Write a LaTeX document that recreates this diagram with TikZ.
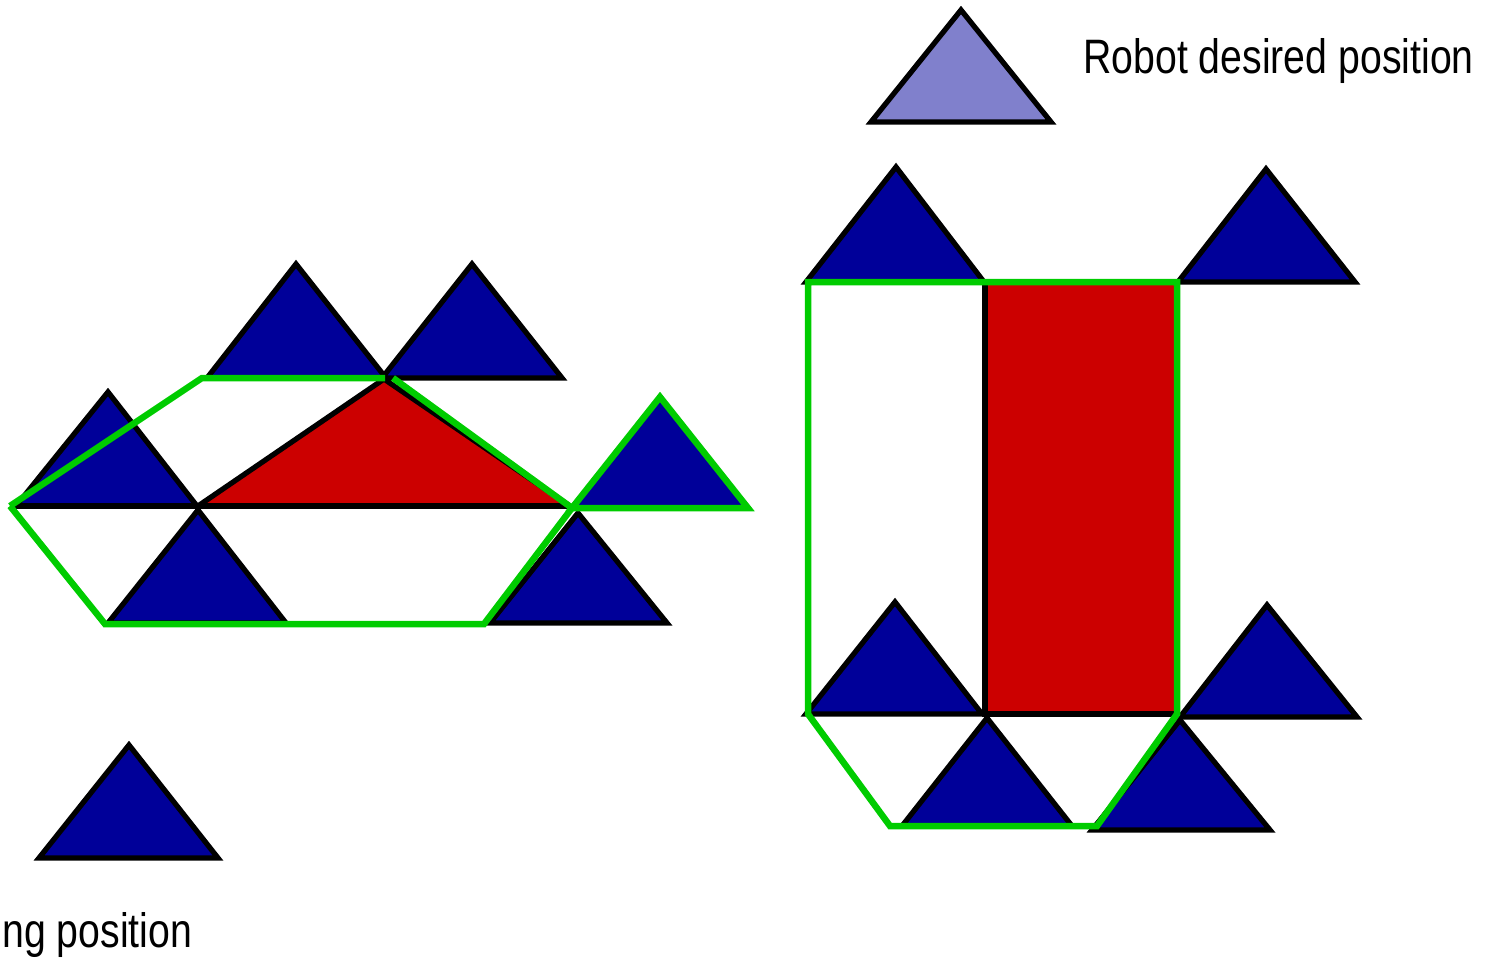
\documentclass[tikz,border=0pt]{standalone}
\usepackage{fontspec}
\setmainfont{Liberation Sans}[FakeStretch=0.812]
\definecolor{robotblue}{RGB}{0,0,153}
\definecolor{robotred}{RGB}{204,0,0}
\definecolor{hullgreen}{RGB}{0,204,0}
\definecolor{goalblue}{RGB}{128,128,204}
\tikzset{
  robot/.style={fill=robotblue, draw=black, line width=3pt, line join=miter},
  goal/.style={fill=goalblue, draw=black, line width=3pt, line join=miter},
  blackedge/.style={draw=black, line width=3pt, line join=miter},
  hull/.style={draw=hullgreen, line width=3.7pt, line join=miter},
  label/.style={font=\fontsize{27.5}{30}\selectfont, inner sep=0pt, anchor=base west}
}
\begin{document}
\begin{tikzpicture}[x=0.02cm, y=-0.02cm]
\useasboundingbox (0,0) rectangle (1492,960);
\clip (0,0) rectangle (1492,960);

% ---------- left group ----------
\fill[robotred] (198,506) -- (384,379) -- (570,506) -- cycle;
\draw[blackedge] (198,506) -- (384,379) -- (570,506);
\draw[robot] (296,264) -- (386,378) -- (207,378) -- cycle;
\draw[robot] (472,264) -- (562,378) -- (382,378) -- cycle;
\draw[robot] (108,392) -- (197,506) -- (16,506) -- cycle;
\draw[blackedge] (16,506) -- (570,506);
\draw[robot] (198,510) -- (286,623) -- (108,623) -- cycle;
\draw[robot] (578,513) -- (667,623) -- (490,623) -- cycle;
\draw[robot] (129,745) -- (218,858) -- (39,858) -- cycle;
% green hull
\draw[hull] (10,506) -- (202,378) -- (385,378);
\draw[hull] (393,378) -- (572,508) -- (484,624) -- (105,624) -- (10,506);
\draw[hull, fill=robotblue] (572,508) -- (660,397) -- (748,508) -- cycle;

% ---------- right group ----------
\draw[goal] (961,10) -- (1051,122) -- (871,122) -- cycle;
\node[label] (goaltext) at (1083,73) {Robot desired position};

\fill[robotred] (985,282) rectangle (1177,714);
\draw[blackedge] (985,282) -- (985,714) -- (1177,714);
\draw[robot] (896,167) -- (984,282) -- (806,282) -- cycle;
\draw[robot] (1266,169) -- (1355,282) -- (1178,282) -- cycle;
\draw[robot] (895,602) -- (982,714) -- (806,714) -- cycle;
\draw[robot] (1267,605) -- (1357,717) -- (1180,717) -- cycle;
\draw[robot] (987,718) -- (1072,826) -- (902,826) -- cycle;
\draw[robot] (1180,720) -- (1270,830) -- (1092,830) -- cycle;
% green hull
\draw[hull] (808,282) -- (1177,282) -- (1177,714) -- (1097,826) -- (890,826) -- (808,714) -- cycle;

\node[label] (starttext) at (2,947) {ng position};
\end{tikzpicture}
\end{document}
